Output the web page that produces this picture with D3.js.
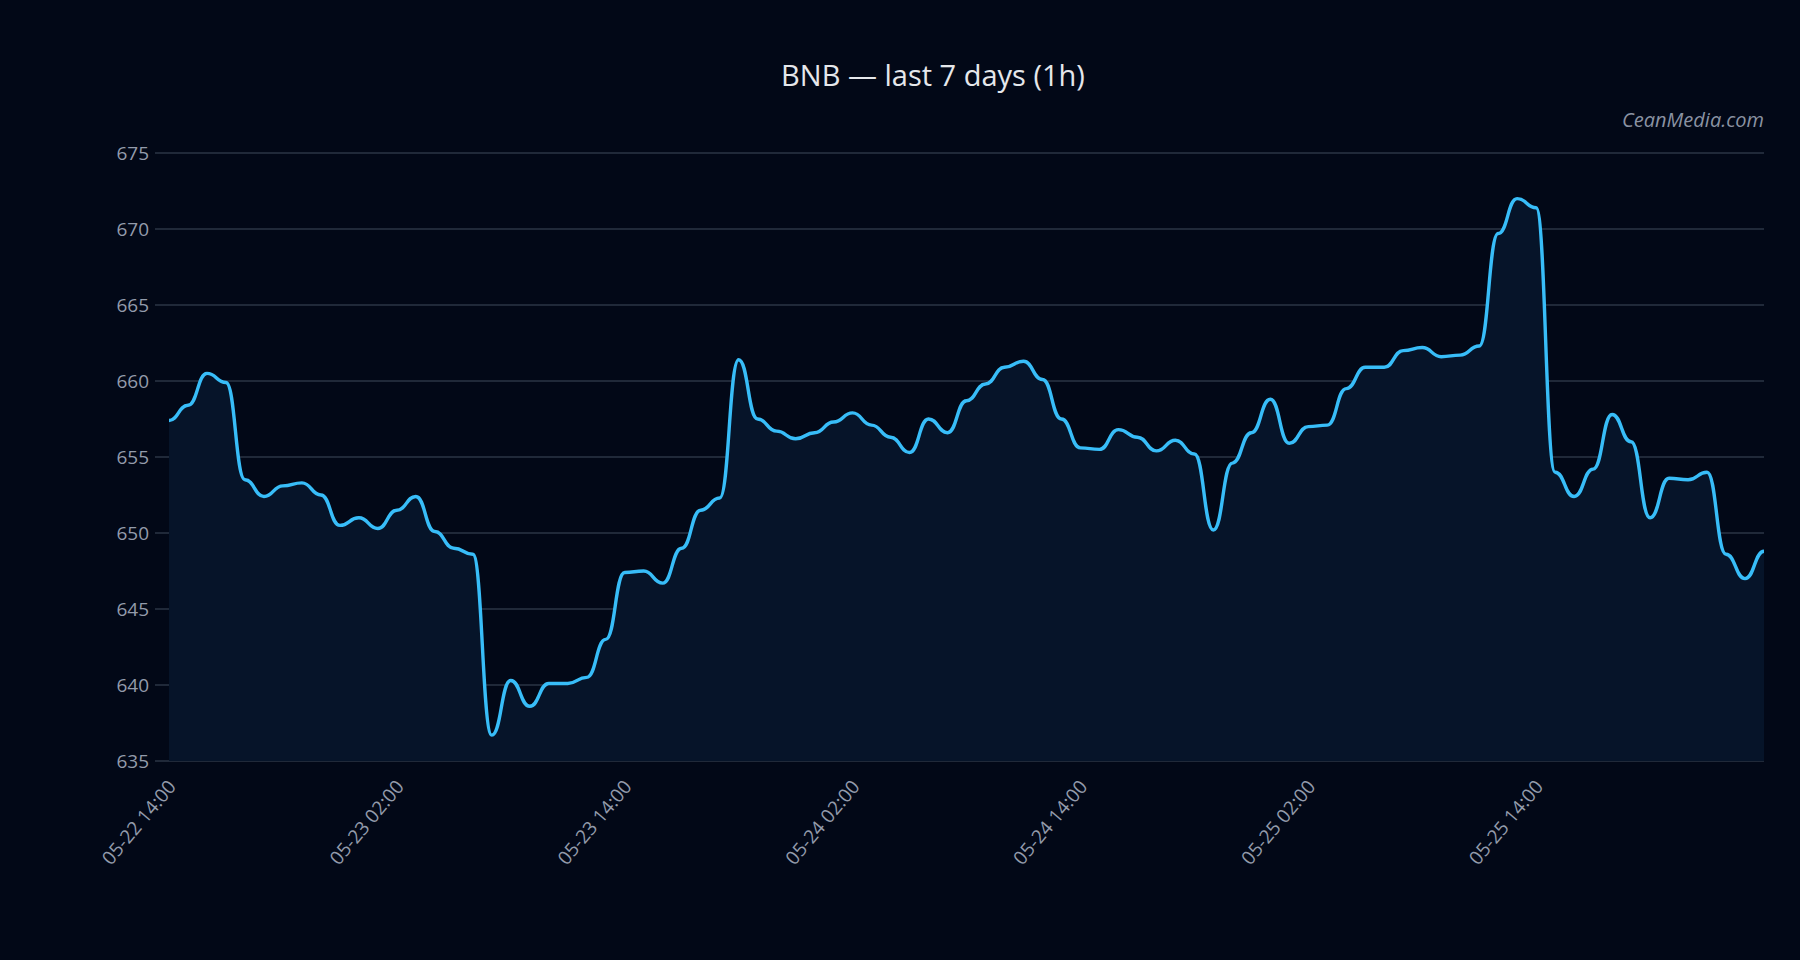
<!DOCTYPE html>
<html><head><meta charset="utf-8">
<script src="https://cdn.jsdelivr.net/npm/d3@7"></script>
<style>body{margin:0;background:#020817;}</style></head>
<body><svg id="c" width="1800" height="960"></svg>
<script>
const startTime = "2025-05-22T14:00:00";
const prices = [657.4,658.4,660.5,659.9,653.5,652.4,653.1,653.3,652.5,650.5,651.0,650.3,651.5,652.4,650.1,649.0,648.6,636.7,640.3,638.6,640.1,640.1,640.5,643.0,647.4,647.5,646.7,649.0,651.5,652.3,661.4,657.5,656.7,656.2,656.6,657.3,657.9,657.1,656.3,655.3,657.5,656.6,658.7,659.8,660.9,661.3,660.1,657.5,655.6,655.5,656.8,656.3,655.4,656.1,655.2,650.2,654.6,656.6,658.8,655.9,657.0,657.1,659.5,660.9,660.9,662.0,662.2,661.6,661.7,662.3,669.7,672.0,671.4,654.0,652.4,654.2,657.8,656.0,651.0,653.6,653.5,654.0,648.6,647.0,648.8];
const yTicks = [635,640,645,650,655,660,665,670,675];
const title = "BNB — last 7 days (1h)";
const watermark = "CeanMedia.com";

const t0 = new Date(startTime);
const data = prices.map((v,i)=>({t:new Date(t0.getTime()+i*3600e3), v}));
const W=1800,H=960,m={l:169,r:36,t:153,b:199};
const svg=d3.select("#c");
svg.append("rect").attr("width",W).attr("height",H).attr("fill","#020817");
const x=d3.scaleTime().domain(d3.extent(data,d=>d.t)).range([m.l,W-m.r]);
const y=d3.scaleLinear().domain([635,675]).range([H-m.b,m.t]);
const font="'Open Sans', 'Noto Sans', sans-serif";
svg.append("g").selectAll("line").data(yTicks).join("line")
 .attr("x1",m.l-14).attr("x2",W-m.r).attr("y1",d=>y(d)).attr("y2",d=>y(d))
 .attr("stroke","#2b3546").attr("stroke-width",1.3);
svg.append("g").selectAll("text").data(yTicks).join("text")
 .attr("x",m.l-20).attr("y",d=>y(d)).attr("dy","0.35em").attr("text-anchor","end")
 .attr("fill","#939bab").attr("font-family",font).attr("font-size",19).text(d=>d);
const curve=d3.curveBumpX;
svg.append("path").datum(data).attr("fill","#061429")
 .attr("d",d3.area().x(d=>x(d.t)).y0(y(635)).y1(d=>y(d.v)).curve(curve));
svg.append("path").datum(data).attr("fill","none").attr("stroke","#38bdf8").attr("stroke-width",3.4)
 .attr("d",d3.line().x(d=>x(d.t)).y(d=>y(d.v)).curve(curve));
const xt=d3.range(0,84,12).map(h=>new Date(t0.getTime()+h*3600e3));
const fmt=d3.timeFormat("%m-%d %H:%M");
svg.append("g").selectAll("text").data(xt).join("text")
 .attr("transform",d=>`translate(${x(d)+3},${H-m.b+22}) rotate(-50)`)
 .attr("text-anchor","end").attr("dy","0.35em")
 .attr("fill","#939bab").attr("font-family",font).attr("font-size",19).text(fmt);
svg.append("text").attr("x",933).attr("y",76).attr("dy","0.35em").attr("text-anchor","middle")
 .attr("fill","#e5e7eb").attr("font-family",font).attr("font-size",29).text(title);
svg.append("text").attr("x",W-m.r).attr("y",120).attr("dy","0.35em").attr("text-anchor","end")
 .attr("fill","#8a92a2").attr("font-style","italic").attr("font-family",font).attr("font-size",20).text(watermark);
</script></body></html>
